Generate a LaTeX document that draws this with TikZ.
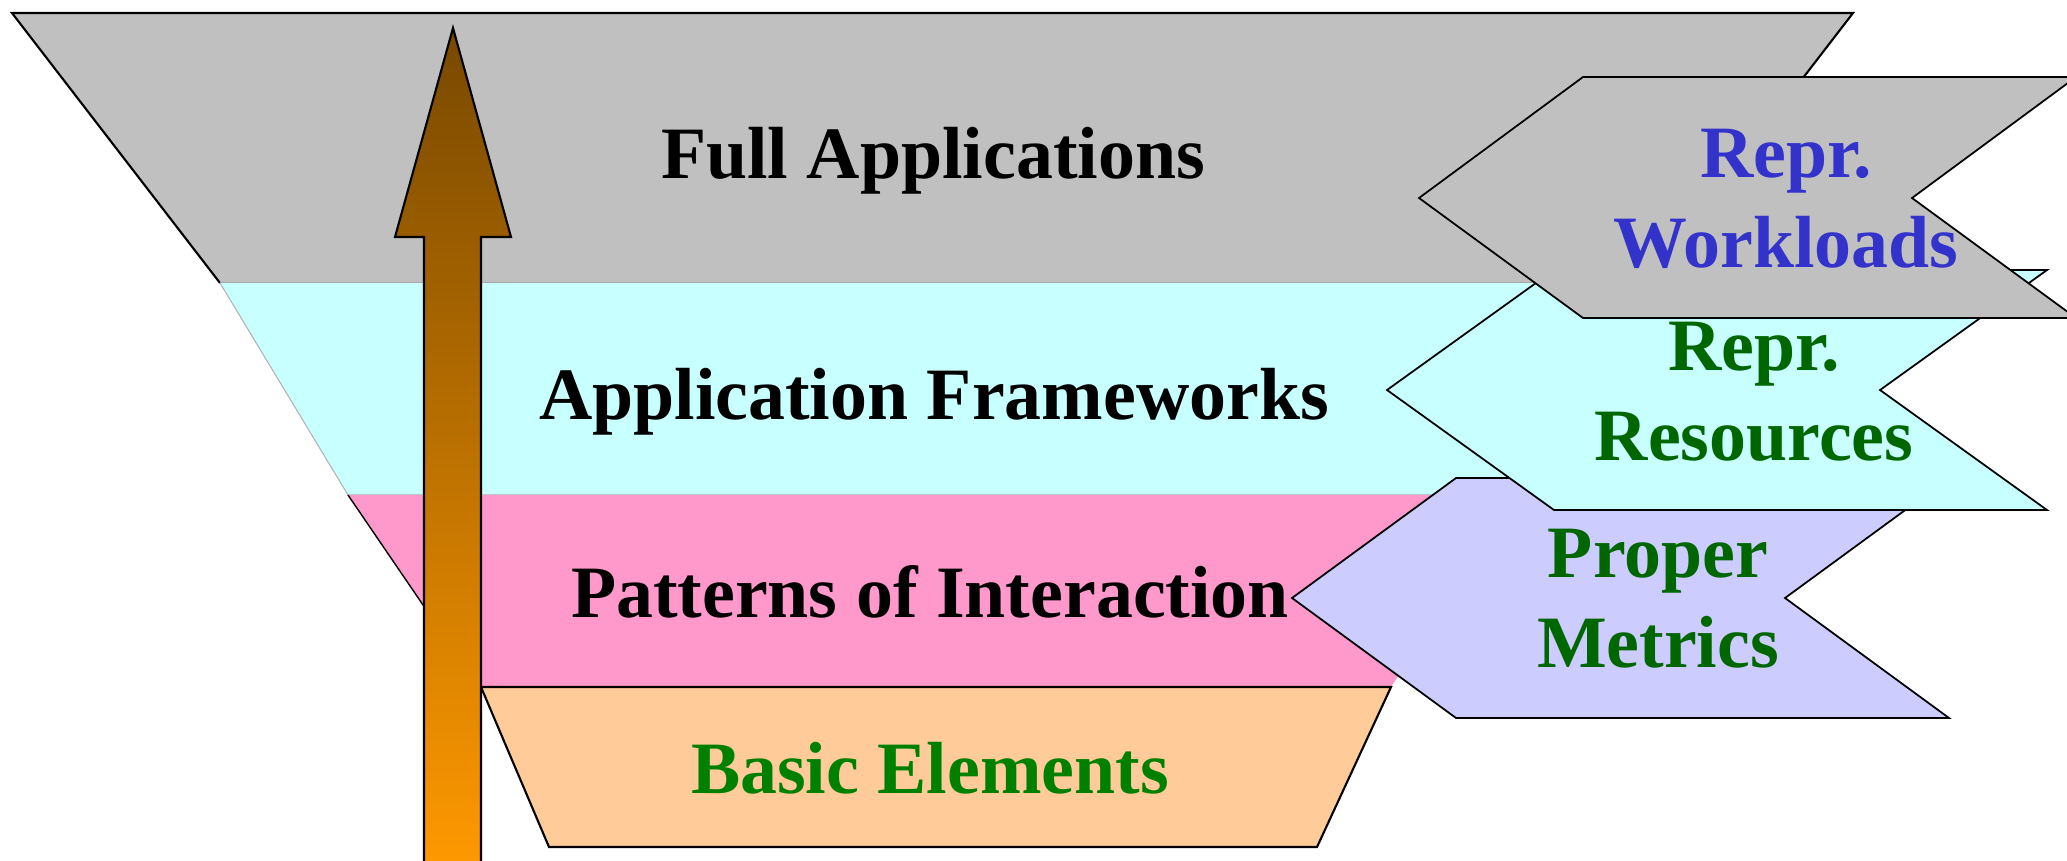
\documentclass[tikz,border=0pt]{standalone}
\usepackage{fontspec}
\setmainfont{Liberation Serif}
\definecolor{layergray}{HTML}{C0C0C0}
\definecolor{layercyan}{HTML}{C8FFFF}
\definecolor{layerpink}{HTML}{FF99CC}
\definecolor{layerorange}{HTML}{FFCC99}
\definecolor{chevlav}{HTML}{CCCCFF}
\definecolor{txtgreen}{HTML}{006600}
\definecolor{txtgreenb}{HTML}{008000}
\definecolor{txtblue}{HTML}{3333CC}
\definecolor{arrowtop}{HTML}{784800}
\definecolor{arrowbot}{HTML}{FF9900}
\begin{document}
\begin{tikzpicture}[x=0.01cm,y=-0.01cm,
  lbl/.style={inner sep=0pt, font=\fontsize{21}{25.6}\selectfont\bfseries, align=center},
  edge/.style={draw=black, line width=0.6pt, line join=miter},
  chev/.style={draw=black, line width=0.5pt}]
\useasboundingbox (0,0) rectangle (2067,860);
% layers
\fill[layergray] (12,13) -- (1853,13) -- (1645,283) -- (220,283) -- cycle;
\draw[edge] (220,283) -- (12,13) -- (1853,13) -- (1645,283);
\draw[gray!70, line width=0.3pt] (220,283) -- (1645,283);
\fill[layercyan] (220,283) -- (1645,283) -- (1518,495) -- (348,495) -- cycle;
\draw[gray!60, line width=0.3pt] (220,283) -- (348,495) -- (1518,495);
\fill[layerpink] (348,495) -- (1518,495) -- (1391,687) -- (479,687) -- cycle;
\draw[edge, line width=0.4pt] (348,495) -- (479,687);
\filldraw[layerorange, edge] (481,687) -- (1391,687) -- (1317,847) -- (549,847) -- cycle;
% arrow
\shade[top color=arrowtop, bottom color=arrowbot] (424,870) -- (424,237) -- (395,237) -- (453,28) -- (511,237) -- (481,237) -- (481,870) -- cycle;
\draw[edge] (424,870) -- (424,237) -- (395,237) -- (453,28) -- (511,237) -- (481,237) -- (481,870);
% chevrons
\filldraw[chevlav, chev] (1292,598) -- (1456,478) -- (1949,478) -- (1785,598) -- (1949,718) -- (1456,718) -- cycle;
\filldraw[layercyan, chev] (1387,390) -- (1554,270) -- (2047,270) -- (1880,390) -- (2047,510) -- (1554,510) -- cycle;
\filldraw[layergray, chev] (1419,198) -- (1583,77) -- (2076,77) -- (1912,198) -- (2076,318) -- (1583,318) -- cycle;
% labels
\node[lbl, anchor=base] (full) at (933,178) {Full Applications};
\node[lbl, anchor=base] (frame) at (934,419) {Application Frameworks};
\node[lbl, anchor=base] (patt) at (930,617) {Patterns of Interaction};
\node[lbl, anchor=base, text=txtgreenb] (basic) at (930,793) {Basic Elements};
\node[lbl, text=txtblue] (work) at (1786,199) {Repr.\\Workloads};
\node[lbl, text=txtgreen] (res) at (1754,392) {Repr.\\Resources};
\node[lbl, text=txtgreen] (met) at (1658,599) {Proper\\Metrics};
\end{tikzpicture}
\end{document}
